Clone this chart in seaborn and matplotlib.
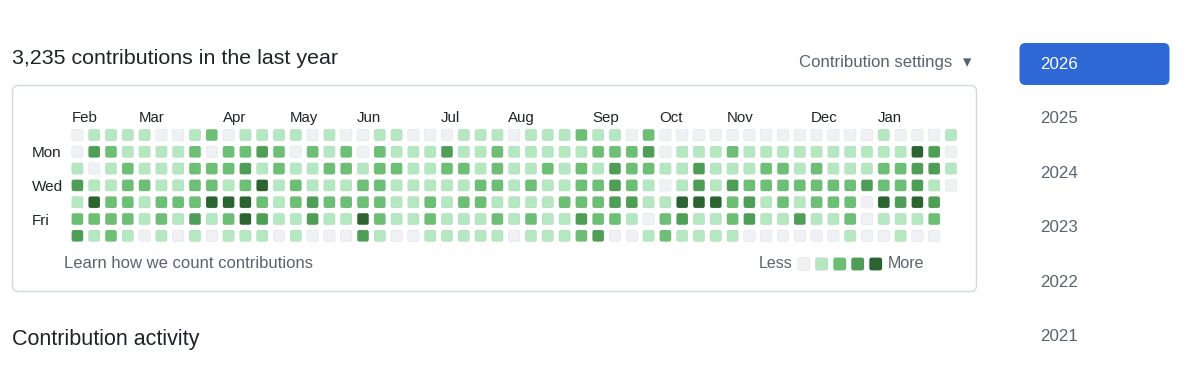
import numpy as np
import pandas as pd
import matplotlib
matplotlib.use("Agg")
import matplotlib.pyplot as plt
from matplotlib.path import Path
from matplotlib.patches import FancyBboxPatch
import seaborn as sns

# ---------------- data ----------------
title = "3,235 contributions in the last year"
months = ["Feb", "Mar", "Apr", "May", "Jun", "Jul", "Aug", "Sep", "Oct", "Nov", "Dec", "Jan"]
month_weeks = [0, 4, 9, 13, 17, 22, 26, 31, 35, 39, 44, 48]
day_labels = ["Mon", "Wed", "Fri"]
day_label_rows = [1, 3, 5]
years = ["2026", "2025", "2024", "2023", "2022", "2021"]

sun = [0,1,1,1,1,0,0,1,2,0,1,1,1, 1,0,1,0,0,1,1,0,0,0,1,1,1, 0,1,1,1,2,1,1,0,2,0,0,0,0, 0,0,0,0,0,0,0,0,0,1,0,0,0,1]
mon = [0,3,2,1,1,1,1,2,0,2,2,3,2, 0,2,1,2,0,2,1,1,1,3,1,1,2, 1,1,1,1,1,2,2,2,3,0,1,1,1, 2,1,1,1,1,1,1,1,1,1,1,4,3,0]
tue = [1,0,1,2,1,1,1,2,2,2,3,1,2, 1,1,2,2,1,2,2,1,1,2,2,1,2, 1,1,2,1,2,1,3,2,2,1,1,3,1, 1,1,2,2,1,2,1,1,1,2,2,3,3,1]
wed = [3,1,1,2,2,1,1,2,2,1,2,4,1, 2,1,1,1,2,2,1,1,1,1,1,2,2, 1,2,1,1,2,2,3,2,1,0,1,3,1, 3,2,2,2,2,2,2,2,3,2,2,3,1,0]
thu = [1,4,2,2,1,2,2,2,4,4,4,2,1, 2,3,2,2,2,2,1,1,2,1,2,2,1, 1,1,1,2,2,2,3,3,1,1,4,4,4, 2,3,1,2,1,2,2,2,0,4,3,4,3,None]
fri = [2,2,2,2,1,2,1,3,1,2,4,3,1, 1,3,1,1,4,2,1,1,2,1,1,1,2, 1,2,1,1,3,2,2,1,0,2,3,1,1, 2,3,1,1,3,1,1,2,0,1,1,1,2,None]
sat = [3,1,2,1,0,1,0,1,0,1,1,1,0, 1,0,0,0,3,1,0,0,1,1,1,1,1, 0,1,1,1,2,3,0,0,1,2,1,1,1, 1,0,0,0,0,0,0,1,0,0,1,0,0,None]
legend_levels = [0, 1, 2, 3, 4]

# ---------------- styling ----------------
level_colors = {0: "#eff1f4", 1: "#b5e8c0", 2: "#6cbf74", 3: "#4f9e57", 4: "#2b6331"}
TXT = "#1f2328"
MUTED = "#59636e"
FONT = ["Liberation Sans", "DejaVu Sans"]

sns.set_theme(style="white")
plt.rcParams["font.family"] = FONT

rows = [sun, mon, tue, wed, thu, fri, sat]
recs = []
for d, r in enumerate(rows):
    for w, v in enumerate(r):
        if v is not None:
            recs.append({"week": w, "day": d, "level": v})
df = pd.DataFrame(recs)

# rounded square marker
r = 0.35
verts = [(-1 + r, -1), (1 - r, -1), (1, -1), (1, -1 + r), (1, 1 - r), (1, 1), (1 - r, 1),
         (-1 + r, 1), (-1, 1), (-1, 1 - r), (-1, -1 + r), (-1, -1), (-1 + r, -1), (-1 + r, -1)]
codes = [Path.MOVETO, Path.LINETO, Path.CURVE3, Path.CURVE3, Path.LINETO, Path.CURVE3, Path.CURVE3,
         Path.LINETO, Path.CURVE3, Path.CURVE3, Path.LINETO, Path.CURVE3, Path.CURVE3, Path.CLOSEPOLY]
rsq = Path(verts, codes)

W, H = 1200, 369
fig = plt.figure(figsize=(W / 100, H / 100), dpi=100)
fig.patch.set_facecolor("white")

# background axes in pixel coordinates
bg = fig.add_axes([0, 0, 1, 1])

leg = pd.DataFrame({"x": [803.7 + 18 * i for i in range(len(legend_levels))],
                    "y": [264] * len(legend_levels), "level": legend_levels})
sns.scatterplot(data=leg, x="x", y="y", hue="level", palette=level_colors, marker=rsq, s=84,
                linewidth=0.6, edgecolor=(0.1, 0.12, 0.14, 0.06), legend=False, ax=bg, zorder=3)
bg.set_xlim(0, W)
bg.set_ylim(H, 0)
bg.axis("off")

bg.add_patch(FancyBboxPatch((12.5, 85.5), 964, 206, boxstyle="round,pad=0,rounding_size=6",
                            fc="white", ec="#d1d9e0", lw=1.0, zorder=1))
bg.text(12, 58.5, title, fontsize=15.4, color=TXT, va="center", ha="left")
bg.text(952, 62, "Contribution settings", fontsize=12.1, color=MUTED, va="center", ha="right")
bg.text(967, 62.5, "▾", fontsize=12, color=MUTED, va="center", ha="center", family="DejaVu Sans")
bg.text(64, 264, "Learn how we count contributions", fontsize=12, color=MUTED, va="center", ha="left")
bg.text(792, 264, "Less", fontsize=11.5, color=MUTED, va="center", ha="right")
bg.text(888, 264, "More", fontsize=11.5, color=MUTED, va="center", ha="left")
bg.text(12, 339.5, "Contribution activity", fontsize=15.5, color=TXT, va="center", ha="left")

# year buttons
bg.add_patch(FancyBboxPatch((1019.5, 43), 150, 42, boxstyle="round,pad=0,rounding_size=6",
                            fc="#2d68d4", ec="none"))
for i, yr in enumerate(years):
    ypos = 64.5 + 54.4 * i
    bg.text(1040, ypos, yr, fontsize=12.2, color="white" if i == 0 else MUTED, va="center", ha="left")

# contribution grid axes
pitch = 16.8
x0c, y0c = 77.4, 135.0
left = x0c - pitch / 2
right = x0c + pitch * 52 + pitch / 2
top = y0c - pitch / 2
bottom = y0c + pitch * 6 + pitch / 2
ax = fig.add_axes([left / W, 1 - bottom / H, (right - left) / W, (bottom - top) / H])
ax.patch.set_alpha(0)
sns.scatterplot(data=df, x="week", y="day", hue="level", palette=level_colors, marker=rsq, s=68,
                linewidth=0.6, edgecolor=(0.1, 0.12, 0.14, 0.06), legend=False, ax=ax)
ax.set_xlim(-0.5, 52.5)
ax.set_ylim(6.5, -0.5)
for s in ax.spines.values():
    s.set_visible(False)
ax.set_xlabel("")
ax.set_ylabel("")
ax.xaxis.tick_top()
ax.set_xticks([m - 0.36 for m in month_weeks])
ax.set_xticklabels(months, ha="left", fontsize=10.8, color=TXT)
ax.set_yticks(day_label_rows)
ax.set_yticklabels(day_labels, ha="left", fontsize=11, color=TXT)
ax.tick_params(axis="x", length=0, pad=1.5)
ax.tick_params(axis="y", length=0, pad=(left - 32) * 0.72)
ax.grid(False)

fig.savefig("out.png", dpi=100, facecolor="white")
